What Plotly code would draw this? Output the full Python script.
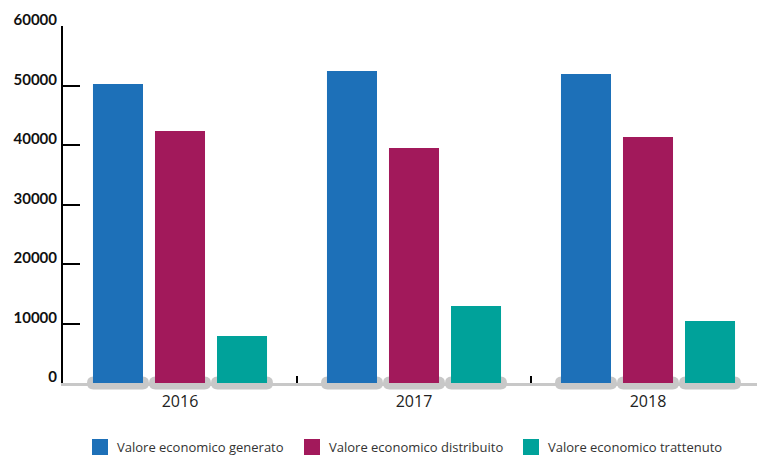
import plotly.graph_objects as go

years = ["2016", "2017", "2018"]
series_names = ["Valore economico generato", "Valore economico distribuito", "Valore economico trattenuto"]
generato = [50250, 52450, 51950]
distribuito = [42350, 39500, 41350]
trattenuto = [7900, 12950, 10400]
colors = ["#1d70b8", "#a2195b", "#00a29a"]
y_ticks = [0, 10000, 20000, 30000, 40000, 50000, 60000]
y_tick_labels = ["0", "10000", "20000", "30000", "40000", "50000", "60000"]

values = [generato, distribuito, trattenuto]
bargap = 0.205
bargroupgap = 0.1935
n = len(values)
slot = (1 - bargap) / n

# layout geometry (pixels)
W, H = 757, 455
ML, MT, MB = 63, 26, 72
PW, PH = W - ML, H - MT - MB
CAT_PX = 234

def px_x(px):
    return (px - ML) / PW

def px_y(py):
    return (H - MB - py) / PH

fig = go.Figure()
for name, vals, c in zip(series_names, values, colors):
    fig.add_trace(go.Bar(x=years, y=vals, name=name, showlegend=False,
                         marker=dict(color=c, line=dict(width=0))))

# grey rounded pills under each bar
r = 6.5
half = 31
pill = (f"M {-half + r},{-r} L {half - r},{-r} Q {half},{-r} {half},0 Q {half},{r} {half - r},{r} "
        f"L {-half + r},{r} Q {-half},{r} {-half},0 Q {-half},{-r} {-half + r},{-r} Z")
for i in range(len(years)):
    for j in range(n):
        cx = i - (1 - bargap) / 2 + slot * (j + 0.5)
        fig.add_shape(type="path", path=pill, xsizemode="pixel", ysizemode="pixel",
                      xanchor=cx, yanchor=0, xref="x", yref="paper",
                      fillcolor="#c8c8c8", line=dict(width=0), layer="below")

# custom legend
legend_sq_left = [92, 304, 523]
sq = 16
for name, c, x0 in zip(series_names, colors, legend_sq_left):
    fig.add_shape(type="rect", xref="paper", yref="paper",
                  x0=px_x(x0), x1=px_x(x0 + sq), y0=px_y(439 + sq), y1=px_y(439),
                  fillcolor=c, line=dict(width=0))
    fig.add_annotation(xref="paper", yref="paper", x=px_x(x0 + sq + 7), y=px_y(447),
                       xanchor="left", yanchor="middle", showarrow=False, text=name,
                       font=dict(family="Open Sans", size=13, color="#333333"))

fig.update_layout(
    width=W, height=H,
    margin=dict(l=ML, r=0, t=MT, b=MB),
    plot_bgcolor="white", paper_bgcolor="white",
    barmode="group", bargap=bargap, bargroupgap=bargroupgap,
    showlegend=False,
)
fig.update_xaxes(
    type="category", range=[-0.5, -0.5 + PW / CAT_PX], automargin=False,
    showline=True, linecolor="#c8c8c8", linewidth=3,
    ticks="inside", tickson="boundaries", ticklen=7, tickwidth=2, tickcolor="#000000",
    showgrid=False, zeroline=False,
    tickfont=dict(family="Open Sans", size=16, color="#222222"),
    ticklabelstandoff=2,
)
fig.update_yaxes(
    range=[0, 60000], tickvals=y_ticks, ticktext=y_tick_labels, automargin=False,
    showline=True, linecolor="#000000", linewidth=2,
    ticks="inside", ticklen=17, tickwidth=2, tickcolor="#000000",
    showgrid=False, zeroline=False,
    tickfont=dict(family="Lato", size=15, color="#111111", weight="bold"),
    ticklabelshift=-6, ticklabelstandoff=1,
)

fig.write_html("out.html", config={"displayModeBar": False},
               post_script="document.body.style.margin='0px';document.body.style.overflow='hidden';")
